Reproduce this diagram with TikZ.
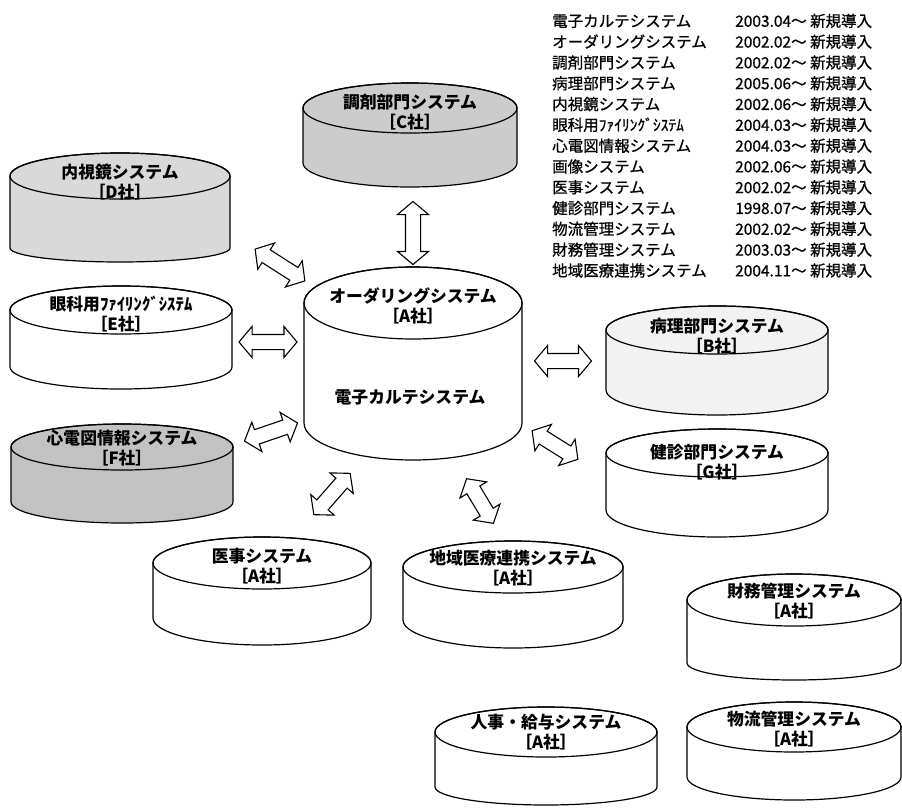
\documentclass[tikz,border=0pt]{standalone}
\usepackage{fontspec}
\setmainfont{Noto Sans CJK JP}
\newfontfamily\tblfont{Noto Sans CJK JP}[RawFeature={embolden=0.8}]
\usetikzlibrary{shapes.arrows}

\tikzset{
  cylline/.style={line width=1.2pt, line join=round},
  cyltext/.style={font=\fontsize{16.8}{20}\selectfont\bfseries, align=center, inner sep=0pt},
  fatarrow/.style={double arrow, draw, fill=white, line width=1.1pt, minimum width=0pt,
    inner xsep=0pt, inner ysep=7pt, double arrow head extend=8pt,
    double arrow tip angle=100}
}

% #1 name, #2 cx, #3 cy, #4 rx, #5 ry, #6 side, #7 bottom ry, #8 fill
\newcommand{\dbcyl}[8]{%
  \draw[cylline, fill=#8] (#2-#4,#3) -- (#2-#4,#3+#6)
    arc[start angle=180, end angle=360, x radius=#4pt, y radius=#7pt]
    -- (#2+#4,#3) arc[start angle=0, end angle=180, x radius=#4pt, y radius=#5pt] -- cycle;
  \draw[cylline] (#2,#3) ellipse[x radius=#4pt, y radius=#5pt];
  \coordinate (#1) at (#2,#3);
}

\begin{document}
\begin{tikzpicture}[x=1pt, y=-1pt]
	\useasboundingbox (0,0) rectangle (902,807);
	% cylinders
	\dbcyl{C}{410}{108}{107}{25}{55}{24}{black!20}
	\dbcyl{D}{120}{176}{110}{23}{72}{14}{black!15}
	\dbcyl{E}{121}{310}{111}{24}{57}{22}{white}
	\dbcyl{F}{122}{447}{111}{23}{55}{21}{black!24}
	\dbcyl{A}{413}{303}{109}{36}{120}{37}{white}
	\dbcyl{B}{717}{330}{111}{24}{60}{25}{black!5}
	\dbcyl{G}{717}{453}{111}{24}{57}{27}{white}
	\dbcyl{I}{262}{563}{109}{26}{55}{27}{white}
	\dbcyl{R}{513}{567}{110}{26}{53}{28}{white}
	\dbcyl{Z}{794}{600}{107}{26}{63}{17}{white}
	\dbcyl{J}{546}{732}{111}{25}{55}{18}{white}
	\dbcyl{L}{794}{727}{107}{25}{50}{23}{white}
	% labels
	\node[cyltext] (tC) at (410,112) {調剤部門システム\\［C社］};
	\node[cyltext] (tD) at (120,182) {内視鏡システム\\［D社］};
	\node[cyltext] (tE) at (121,314) {眼科用ﾌｧｲﾘﾝｸﾞｼｽﾃﾑ\\［E社］};
	\node[cyltext] (tF) at (122,448) {心電図情報システム\\［F社］};
	\node[cyltext] (tA) at (413,306) {オーダリングシステム\\［A社］};
	\node[cyltext] (tK) at (410,397) {電子カルテシステム};
	\node[cyltext] (tB) at (717,336) {病理部門システム\\［B社］};
	\node[cyltext] (tG) at (717,462) {健診部門システム\\［G社］};
	\node[cyltext] (tI) at (262,566) {医事システム\\［A社］};
	\node[cyltext] (tR) at (513,568) {地域医療連携システム\\［A社］};
	\node[cyltext] (tZ) at (794,601) {財務管理システム\\［A社］};
	\node[cyltext] (tJ) at (546,732) {人事・給与システム\\［A社］};
	\node[cyltext] (tL) at (794,729) {物流管理システム\\［A社］};
	% arrows
	\node[fatarrow, minimum height=63pt, rotate=90] (aCA) at (413,233) {};
	\node[fatarrow, minimum height=59pt, rotate=-32.6] (aDA) at (280,265) {};
	\node[fatarrow, minimum height=58pt] (aEA) at (268,342) {};
	\node[fatarrow, minimum height=56pt, rotate=18.8] (aFA) at (271,432) {};
	\node[fatarrow, minimum height=57pt] (aAB) at (563,361) {};
	\node[fatarrow, minimum height=54pt, rotate=-32] (aAG) at (555,445) {};
	\node[fatarrow, minimum height=55pt, rotate=48.7] (aAI) at (332,494) {};
	\node[fatarrow, minimum height=52pt, rotate=-59] (aAR) at (480,501) {};
	% table
	\node[anchor=north west, inner sep=0pt, font=\tblfont\fontsize{15.5}{20.8}\selectfont] (tbl) at (552,12) {%
	\begin{tabular}{@{}p{183pt}@{}l@{}}
	電子カルテシステム & 2003.04～ 新規導入\\
	オーダリングシステム & 2002.02～ 新規導入\\
	調剤部門システム & 2002.02～ 新規導入\\
	病理部門システム & 2005.06～ 新規導入\\
	内視鏡システム & 2002.06～ 新規導入\\
	眼科用ﾌｧｲﾘﾝｸﾞｼｽﾃﾑ & 2004.03～ 新規導入\\
	心電図情報システム & 2004.03～ 新規導入\\
	画像システム & 2002.06～ 新規導入\\
	医事システム & 2002.02～ 新規導入\\
	健診部門システム & 1998.07～ 新規導入\\
	物流管理システム & 2002.02～ 新規導入\\
	財務管理システム & 2003.03～ 新規導入\\
	地域医療連携システム & 2004.11～ 新規導入
	\end{tabular}};
\end{tikzpicture}
\end{document}
